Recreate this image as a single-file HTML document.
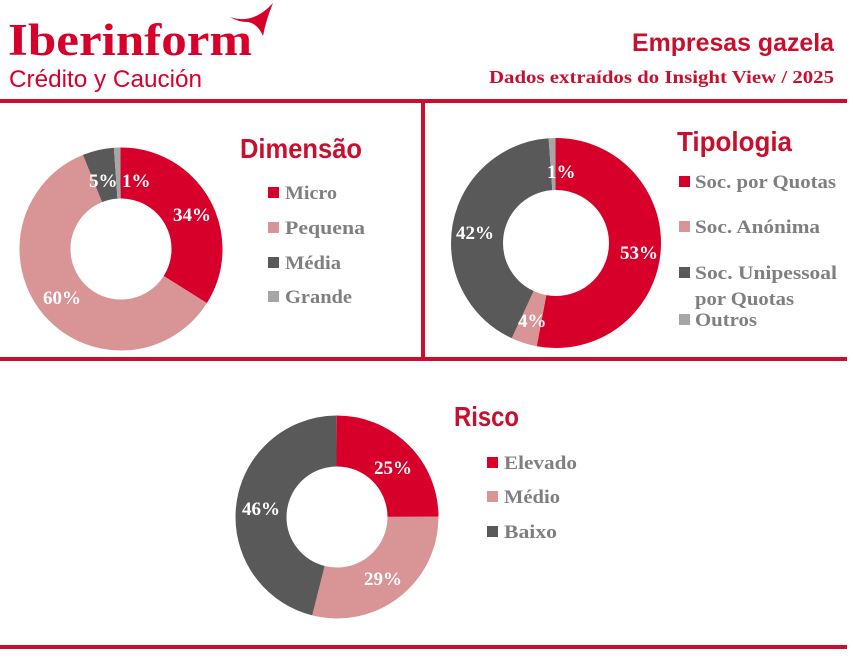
<!DOCTYPE html>
<html><head><meta charset="utf-8"><style>
body{margin:0;background:#fff;width:853px;height:664px;overflow:hidden;position:relative;font-family:"Liberation Sans",sans-serif}
</style></head><body>
<svg width="853" height="664" style="position:absolute;left:0;top:0">
<text x="8" y="55" font-family="Liberation Serif,serif" font-weight="bold" font-size="45" fill="#d7002b" textLength="244" lengthAdjust="spacingAndGlyphs">Iberinform</text>
<path d="M230 17 Q250 24 268 8 L273 3 Q266 20 263 36 Q258 24 248 22 Q238 22 230 17Z" fill="#d7002b"/>
<text x="9" y="87" font-family="Liberation Sans,sans-serif" font-size="24" fill="#d7002b" textLength="193" lengthAdjust="spacingAndGlyphs">Crédito y Caución</text>
<text x="834" y="51" text-anchor="end" font-weight="bold" font-size="25" fill="#c8102e" textLength="202" lengthAdjust="spacingAndGlyphs">Empresas gazela</text>
<text x="834" y="83" text-anchor="end" font-weight="bold" font-size="18" fill="#c8102e" font-family="Liberation Serif,serif" textLength="345" lengthAdjust="spacingAndGlyphs">Dados extraídos do Insight View / 2025</text>
<rect x="0" y="99" width="847" height="4" fill="#c8102e"/>
<rect x="421" y="99" width="4" height="260" fill="#c8102e"/>
<rect x="0" y="357" width="847" height="4" fill="#c8102e"/>
<rect x="0" y="645" width="847" height="4" fill="#c8102e"/>
<g fill="none" stroke-width="51">
<g transform="rotate(-90 121 249)">
<circle cx="121" cy="249" r="76" pathLength="100" stroke="#d7002b" stroke-dasharray="34 66"/>
<circle cx="121" cy="249" r="76" pathLength="100" stroke="#d99595" stroke-dasharray="0 34 60 6"/>
<circle cx="121" cy="249" r="76" pathLength="100" stroke="#595959" stroke-dasharray="0 94 5 1"/>
<circle cx="121" cy="249" r="76" pathLength="100" stroke="#a6a6a6" stroke-dasharray="0 99 1 0"/>
</g>
<g transform="rotate(-90 556 243)" stroke-width="52">
<circle cx="556" cy="243" r="79" pathLength="100" stroke="#d7002b" stroke-dasharray="53 47"/>
<circle cx="556" cy="243" r="79" pathLength="100" stroke="#d99595" stroke-dasharray="0 53 4 43"/>
<circle cx="556" cy="243" r="79" pathLength="100" stroke="#595959" stroke-dasharray="0 57 42 1"/>
<circle cx="556" cy="243" r="79" pathLength="100" stroke="#a6a6a6" stroke-dasharray="0 99 1 0"/>
</g>
<g transform="rotate(-90 337 517)">
<circle cx="337" cy="517" r="76" pathLength="100" stroke="#d7002b" stroke-dasharray="25 75"/>
<circle cx="337" cy="517" r="76" pathLength="100" stroke="#d99595" stroke-dasharray="0 25 29 46"/>
<circle cx="337" cy="517" r="76" pathLength="100" stroke="#595959" stroke-dasharray="0 54 46 0"/>
</g>
</g>
<g font-family="Liberation Serif,serif" font-weight="bold" font-size="19" fill="#fff">
<text x="89" y="187">5%</text><text x="122" y="187">1%</text>
<text x="173" y="221">34%</text><text x="43" y="304">60%</text>
<text x="547" y="178">1%</text><text x="456" y="239">42%</text>
<text x="620" y="259">53%</text><text x="518" y="327">4%</text>
<text x="374" y="474">25%</text><text x="242" y="515">46%</text><text x="364" y="585">29%</text>
</g>
<g font-weight="bold" font-size="28" fill="#c8102e">
<text x="240" y="158" textLength="122" lengthAdjust="spacingAndGlyphs">Dimensão</text>
<text x="677" y="151" textLength="115" lengthAdjust="spacingAndGlyphs">Tipologia</text>
<text x="454" y="426" textLength="65" lengthAdjust="spacingAndGlyphs">Risco</text>
</g>
<g font-family="Liberation Serif,serif" font-weight="bold" font-size="19" fill="#7f7f7f">
<rect x="268" y="187" width="11" height="11" fill="#d7002b"/><text x="285" y="199" textLength="52" lengthAdjust="spacingAndGlyphs">Micro</text>
<rect x="268" y="222" width="11" height="11" fill="#d99595"/><text x="285" y="234" textLength="80" lengthAdjust="spacingAndGlyphs">Pequena</text>
<rect x="268" y="257" width="11" height="11" fill="#595959"/><text x="285" y="269" textLength="56" lengthAdjust="spacingAndGlyphs">Média</text>
<rect x="268" y="291" width="11" height="11" fill="#a6a6a6"/><text x="285" y="303" textLength="67" lengthAdjust="spacingAndGlyphs">Grande</text>
<rect x="679" y="176" width="11" height="11" fill="#d7002b"/><text x="695" y="188" textLength="141" lengthAdjust="spacingAndGlyphs">Soc. por Quotas</text>
<rect x="679" y="221" width="11" height="11" fill="#d99595"/><text x="695" y="233" textLength="125" lengthAdjust="spacingAndGlyphs">Soc. Anónima</text>
<rect x="679" y="267" width="11" height="11" fill="#595959"/><text x="695" y="279" textLength="142" lengthAdjust="spacingAndGlyphs">Soc. Unipessoal</text>
<text x="695" y="305" textLength="99" lengthAdjust="spacingAndGlyphs">por Quotas</text>
<rect x="679" y="314" width="11" height="11" fill="#a6a6a6"/><text x="695" y="326" textLength="62" lengthAdjust="spacingAndGlyphs">Outros</text>
<rect x="487" y="457" width="11" height="11" fill="#d7002b"/><text x="504" y="469" textLength="73" lengthAdjust="spacingAndGlyphs">Elevado</text>
<rect x="487" y="491" width="11" height="11" fill="#d99595"/><text x="504" y="503" textLength="56" lengthAdjust="spacingAndGlyphs">Médio</text>
<rect x="487" y="526" width="11" height="11" fill="#595959"/><text x="504" y="538" textLength="53" lengthAdjust="spacingAndGlyphs">Baixo</text>
</g>
</svg>
</body></html>
